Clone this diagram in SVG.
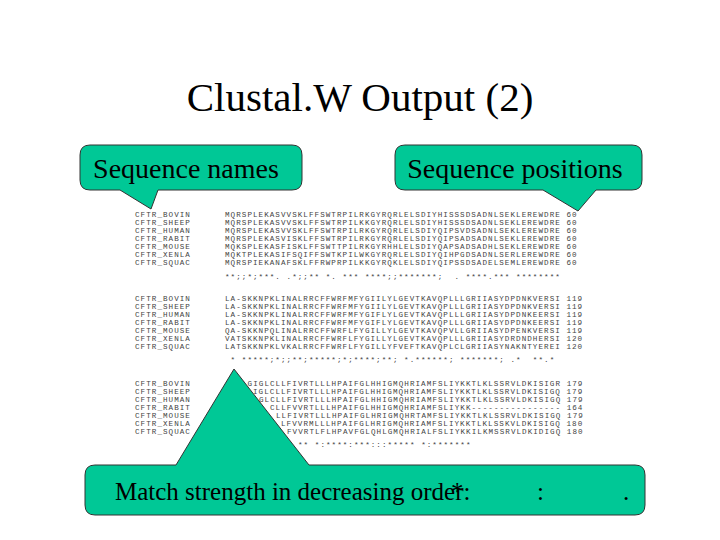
<svg xmlns="http://www.w3.org/2000/svg" width="720" height="540" viewBox="0 0 720 540">
<style>
.t{font-family:"Liberation Serif",serif;fill:#000}
.m{font-family:"Liberation Mono",monospace;font-size:7.6px;letter-spacing:1.04px;fill:#444;white-space:pre}
.c{fill:#00C896;stroke:#333;stroke-width:1}
</style>
<rect width="720" height="540" fill="#fff"/>
<text class="t" x="360" y="111" font-size="41" text-anchor="middle">Clustal.W Output (2)</text>
<g id="alignment" xml:space="preserve">
<g id="block1">
<text class="m" x="135" y="217">CFTR_BOVIN</text><text class="m" x="225" y="217">MQRSPLEKASVVSKLFFSWTRPILRKGYRQRLELSDIYHISSSDSADNLSEKLEREWDRE 60</text>
<text class="m" x="135" y="225">CFTR_SHEEP</text><text class="m" x="225" y="225">MQRSPLEKASVVSKLFFSWTRPILKKGYRQRLELSDIYHISSSDSADNLSEKLEREWDRE 60</text>
<text class="m" x="135" y="233">CFTR_HUMAN</text><text class="m" x="225" y="233">MQRSPLEKASVVSKLFFSWTRPILRKGYRQRLELSDIYQIPSVDSADNLSEKLEREWDRE 60</text>
<text class="m" x="135" y="241">CFTR_RABIT</text><text class="m" x="225" y="241">MQRSPLEKASVISKLFFSWTRPILRKGYRQRLELSDIYQIPSADSADNLSEKLEREWDRE 60</text>
<text class="m" x="135" y="249">CFTR_MOUSE</text><text class="m" x="225" y="249">MQKSPLEKASFISKLFFSWTTPILRKGYRHHLELSDIYQAPSADSADHLSEKLEREWDRE 60</text>
<text class="m" x="135" y="257">CFTR_XENLA</text><text class="m" x="225" y="257">MQKTPLEKASIFSQIFFSWTKPILWKGYRQRLELSDIYQIHPGDSADNLSERLEREWDRE 60</text>
<text class="m" x="135" y="265">CFTR_SQUAC</text><text class="m" x="225" y="265">MQRSPIEKANAFSKLFFRWPRPILKKGYRQKLELSDIYQIPSSDSADELSEMLEREWDRE 60</text>
<text class="m" x="225" y="279">**;;*;***. .*;;** *. *** ****;;*******;  . ****.*** ********</text>
</g>
<g id="block2">
<text class="m" x="135" y="301">CFTR_BOVIN</text><text class="m" x="225" y="301">LA-SKKNPKLINALRRCFFWRFMFYGIILYLGEVTKAVQPLLLGRIIASYDPDNKVERSI 119</text>
<text class="m" x="135" y="309">CFTR_SHEEP</text><text class="m" x="225" y="309">LA-SKKNPKLINALRRCFFWRFMFYGIILYLGEVTKAVQPLLLGRIIASYDPDNKVERSI 119</text>
<text class="m" x="135" y="317">CFTR_HUMAN</text><text class="m" x="225" y="317">LA-SKKNPKLINALRRCFFWRFMFYGIFLYLGEVTKAVQPLLLGRIIASYDPDNKEERSI 119</text>
<text class="m" x="135" y="325">CFTR_RABIT</text><text class="m" x="225" y="325">LA-SKKNPKLINALRRCFFWRFMFYGIFLYLGEVTKAVQPLLLGRIIASYDPDNKEERSI 119</text>
<text class="m" x="135" y="333">CFTR_MOUSE</text><text class="m" x="225" y="333">QA-SKKNPQLINALRRCFFWRFLFYGILLYLGEVTKAVQPVLLGRIIASYDPENKVERSI 119</text>
<text class="m" x="135" y="341">CFTR_XENLA</text><text class="m" x="225" y="341">VATSKKNPKLINALRRCFFWRFLFYGILLYLGEVTKAVQPLLLGRIIASYDRDNDHERSI 120</text>
<text class="m" x="135" y="349">CFTR_SQUAC</text><text class="m" x="225" y="349">LATSKKNPKLVKALRRCFFWRFLFYGILLYFVEFTKAVQPLCLGRIIASYNAKNTYEREI 120</text>
<text class="m" x="225" y="362"> * *****;*;;**;*****;*;****;**; *.******; *******; .*  **.*</text>
</g>
<g id="block3">
<text class="m" x="135" y="386">CFTR_BOVIN</text><text class="m" x="242" y="386">LGIGLCLLFIVRTLLLHPAIFGLHHIGMQHRIAMFSLIYKKTLKLSSRVLDKISIGR 179</text>
<text class="m" x="135" y="394">CFTR_SHEEP</text><text class="m" x="253" y="394">IGLCLLFIVRTLLLHPAIFGLHHIGMQHRIAMFSLIYKKTLKLSSRVLDKISIGQ 179</text>
<text class="m" x="135" y="402">CFTR_HUMAN</text><text class="m" x="259" y="402">GLCLLFIVRTLLLHPAIFGLHHIGMQHRIAMFSLIYKKTLKLSSRVLDKISIGQ 179</text>
<text class="m" x="135" y="410">CFTR_RABIT</text><text class="m" x="270" y="410">CLLFVVRTLLLHPAIFGLHHIGMQHRIAMFSLIYKK---------------- 164</text>
<text class="m" x="135" y="418">CFTR_MOUSE</text><text class="m" x="276" y="418">LLFIVRTLLLHPAIFGLHRIGMQHRTAMFSLIYKKTLKLSSRVLDKISIGQ 179</text>
<text class="m" x="135" y="426">CFTR_XENLA</text><text class="m" x="281" y="426">LFVVRMLLLHPAIFGLHRIGMQHRIAMFSLIYKKTLKLSSKVLDKISIGQ 180</text>
<text class="m" x="135" y="434">CFTR_SQUAC</text><text class="m" x="287" y="434">FVVRTLFLHPAVFGLQHLGMQHRIALFSLIYKKILKMSSRVLDKIDIGQ 180</text>
<text class="m" x="298" y="447">** *:****:***:::***** *:*******</text>
</g>
</g>
<g id="callout-names">
<path class="c" d="M90,145 H292 Q302,145 302,155 V180 Q302,190 292,190 H158 L151,209 L120,190 H90 Q80,190 80,180 V155 Q80,145 90,145 Z"/>
<text class="t" x="186" y="178" font-size="28" text-anchor="middle">Sequence names</text>
</g>
<g id="callout-positions">
<path class="c" d="M405,145 H632 Q642,145 642,155 V180 Q642,190 632,190 H596 L578,211 L543,190 H405 Q395,190 395,180 V155 Q395,145 405,145 Z"/>
<text class="t" x="515" y="178" font-size="28" text-anchor="middle">Sequence positions</text>
</g>
<g id="callout-strength">
<path class="c" d="M95,465 H176 L234,369 L309,465 H635 Q645,465 645,475 V505 Q645,515 635,515 H95 Q85,515 85,505 V475 Q85,465 95,465 Z"/>
<text class="t" x="115" y="500" font-size="25">Match strength in decreasing order:<tspan x="451">*</tspan><tspan x="537">:</tspan><tspan x="623">.</tspan></text>
</g>
<g id="connectors"/>
</svg>
